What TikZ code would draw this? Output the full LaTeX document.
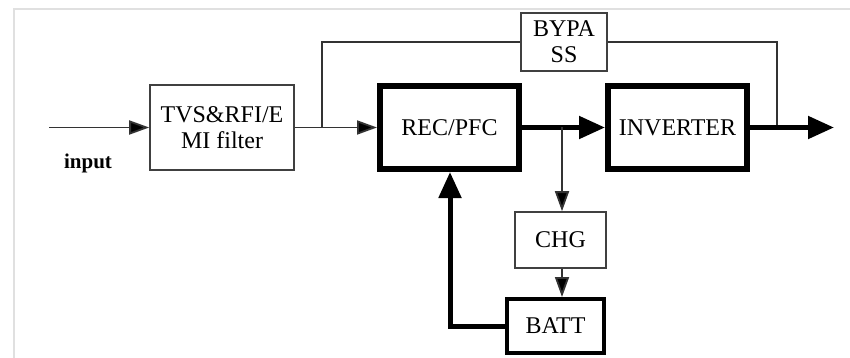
\documentclass[tikz,border=0pt]{standalone}
\usepackage{fontspec}
\setmainfont{Liberation Serif}
\usetikzlibrary{arrows.meta}
\begin{document}
\begin{tikzpicture}[x=1pt,y=-1pt,
  thinbox/.style={draw=black!75,line width=1.6pt,minimum width=#1,inner sep=0pt,align=center,font=\fontsize{24}{26}\selectfont},
  thickbox/.style={draw=black,line width=6pt,inner sep=0pt,align=center,font=\fontsize{24}{26}\selectfont},
  thinline/.style={draw=black!80,line width=1.8pt},
  thinarrow/.style={thinline,-{Triangle[length=20pt,width=14pt,fill=black]}},
  thickarrow/.style={draw=black,line width=5pt,-{Triangle[length=26pt,width=22pt]}},
  frameline/.style={draw=black!12,line width=2pt}
]
\useasboundingbox (0,0) rectangle (850,358);
\draw[frameline] (14,358) -- (14,9) -- (850,9);

\node[thinbox=144pt,minimum height=85pt] (filt) at (222,127.5) {TVS\&RFI/E\\MI filter};
\node[thickbox,minimum width=139pt,minimum height=83pt] (rec) at (449.5,127.5) {REC/PFC};
\node[thickbox,minimum width=139pt,minimum height=83pt] (inv) at (677.5,127.5) {INVERTER};
\node[thinbox=86pt,minimum height=58pt] (byp) at (564,42) {BYPA\\SS};
\node[thinbox=91pt,minimum height=56pt] (chg) at (560.5,240) {CHG};
\node[thickbox,line width=4pt,minimum width=97pt,minimum height=54pt] (batt) at (555.5,326) {BATT};
\node[font=\bfseries\fontsize{21}{23}\selectfont] (inlab) at (88,163) {input};

\coordinate (in) at (49,127.5);
\coordinate (br1) at (322,127.5);
\coordinate (br2) at (562,127.5);
\coordinate (bj) at (777,127.5);
\coordinate (out) at (834,127.5);

\draw[thinarrow] (in) -- (filt.west);
\draw[thinarrow] (filt.east) -- (rec.west);
\draw[thinline] (br1) |- (byp.west);
\draw[thinline] (byp.east) -| (bj);
\draw[thickarrow] (rec.east) -- (inv.west);
\draw[thickarrow] (inv.east) -- (out);
\draw[thinarrow] (br2) -- (br2 |- chg.north);
\draw[thinarrow] (br2 |- chg.south) -- (br2 |- batt.north);
\draw[thickarrow] (batt.west) -| ([xshift=0.5pt]rec.south);
\end{tikzpicture}
\end{document}
